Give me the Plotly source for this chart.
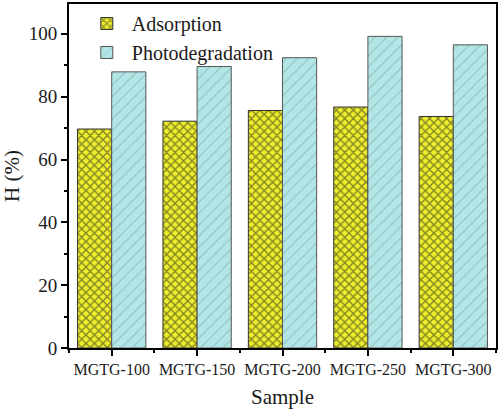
import plotly.graph_objects as go

# sample names and removal efficiencies (%)
samples = ['MGTG-100', 'MGTG-150', 'MGTG-200', 'MGTG-250', 'MGTG-300']
adsorption = [69.7, 72.2, 75.6, 76.7, 73.7]
photodegradation = [87.9, 89.6, 92.4, 99.2, 96.5]

pos = list(range(len(samples)))
font_name = 'Liberation Serif, Times New Roman, serif'

fig = go.Figure()

fig.add_trace(go.Bar(
    x=pos, y=adsorption, name='Adsorption',
    marker=dict(color='#eeee2e',
                line=dict(color='#333333', width=1),
                pattern=dict(shape='x', fgcolor='#1a1a1a', size=6, solidity=0.4)),
))

fig.add_trace(go.Bar(
    x=pos, y=photodegradation, name='Photodegradation',
    marker=dict(color='#b2e6e6',
                line=dict(color='#555555', width=1),
                pattern=dict(shape='/', fgcolor='#6f8f8f', size=8, solidity=0.12)),
))

fig.update_layout(
    width=500, height=412,
    margin=dict(l=69, r=2, t=2, b=64),
    barmode='group', bargap=0.2, bargroupgap=0,
    paper_bgcolor='white', plot_bgcolor='white',
    font=dict(family=font_name, color='#1a1a1a'),
    legend=dict(x=0.03, y=1.0, xanchor='left', yanchor='top',
                font=dict(size=20, family=font_name),
                bgcolor='rgba(0,0,0,0)', tracegroupgap=0,
                itemwidth=40),
    showlegend=True,
)

fig.update_xaxes(
    range=[-0.5, 4.5],
    tickvals=pos, ticktext=samples,
    tickfont=dict(size=16),
    ticks='outside', ticklen=6, tickwidth=1.5, tickcolor='black',
    minor=dict(tick0=0.5, dtick=1, ticks='outside', ticklen=3, tickcolor='black'),
    showline=True, linecolor='black', linewidth=2, mirror=True,
    showgrid=False, zeroline=False,
    title=dict(text='Sample', font=dict(size=21), standoff=12),
)

fig.update_yaxes(
    range=[0, 109.5],
    tickvals=[0, 20, 40, 60, 80, 100],
    tickfont=dict(size=19),
    ticks='outside', ticklen=6, tickwidth=1.5, tickcolor='black',
    minor=dict(tick0=0, dtick=10, ticks='outside', ticklen=3, tickcolor='black'),
    showline=True, linecolor='black', linewidth=2, mirror=True,
    showgrid=False, zeroline=False,
    title=dict(text='H (%)', font=dict(size=21), standoff=6),
)

fig.write_html('out.html', config={'displayModeBar': False},
               post_script="document.body.style.margin='0';")
